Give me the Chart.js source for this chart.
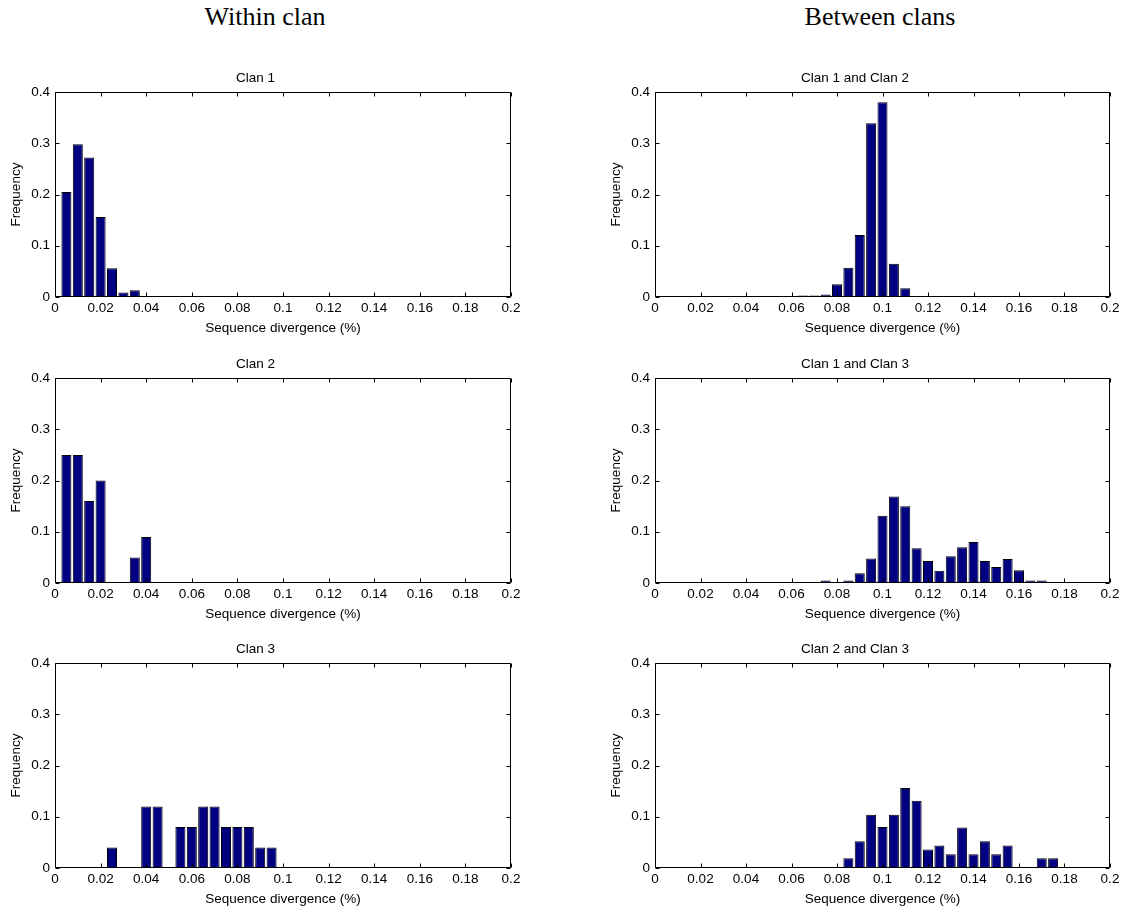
<!DOCTYPE html>
<html>
<head>
<meta charset="utf-8">
<script src="https://cdn.jsdelivr.net/npm/chart.js@4/dist/chart.umd.min.js"></script>
<style>
  body { margin: 0; width: 1131px; height: 911px; overflow: hidden; background: #fff; position: relative; }
  .head { position: absolute; top: 2px; font-family: "Liberation Serif", "Times New Roman", serif; font-size: 26px; color: #000; transform: translateX(-50%); white-space: nowrap; }
  .panel { position: absolute; }
</style>
</head>
<body>
<div class="head" style="left:265px">Within clan</div>
<div class="head" style="left:880px">Between clans</div>

<div class="panel" style="left:0;top:52px;width:560px;height:290px"><canvas id="c1"></canvas></div>
<div class="panel" style="left:600px;top:52px;width:531px;height:290px"><canvas id="c12"></canvas></div>
<div class="panel" style="left:0;top:338px;width:560px;height:290px"><canvas id="c2"></canvas></div>
<div class="panel" style="left:600px;top:338px;width:531px;height:290px"><canvas id="c13"></canvas></div>
<div class="panel" style="left:0;top:623px;width:560px;height:290px"><canvas id="c3"></canvas></div>
<div class="panel" style="left:600px;top:623px;width:531px;height:290px"><canvas id="c23"></canvas></div>

<script>
// bin centres (sequence divergence) and frequencies
const clan1X = [0.005, 0.01, 0.015, 0.02, 0.025, 0.03, 0.035];
const clan1Y = [0.205, 0.298, 0.272, 0.156, 0.056, 0.009, 0.013];

const clan2X = [0.005, 0.01, 0.015, 0.02, 0.035, 0.04];
const clan2Y = [0.25, 0.25, 0.16, 0.20, 0.05, 0.09];

const clan3X = [0.025, 0.04, 0.045, 0.055, 0.06, 0.065, 0.07, 0.075, 0.08, 0.085, 0.09, 0.095];
const clan3Y = [0.04, 0.12, 0.12, 0.08, 0.08, 0.12, 0.12, 0.08, 0.08, 0.08, 0.04, 0.04];

const clan12X = [0.065, 0.07, 0.075, 0.08, 0.085, 0.09, 0.095, 0.1, 0.105, 0.11];
const clan12Y = [0.003, 0.003, 0.005, 0.025, 0.057, 0.121, 0.339, 0.380, 0.065, 0.017];

const clan13X = [0.075, 0.085, 0.09, 0.095, 0.1, 0.105, 0.11, 0.115, 0.12, 0.125,
                 0.13, 0.135, 0.14, 0.145, 0.15, 0.155, 0.16, 0.165, 0.17];
const clan13Y = [0.005, 0.005, 0.019, 0.048, 0.131, 0.169, 0.150, 0.068, 0.043, 0.024,
                 0.052, 0.070, 0.080, 0.043, 0.031, 0.047, 0.025, 0.005, 0.005];

const clan23X = [0.085, 0.09, 0.095, 0.1, 0.105, 0.11, 0.115, 0.12, 0.125, 0.13,
                 0.135, 0.14, 0.145, 0.15, 0.155, 0.17, 0.175];
const clan23Y = [0.019, 0.052, 0.104, 0.080, 0.104, 0.156, 0.131, 0.036, 0.044, 0.027,
                 0.079, 0.027, 0.052, 0.027, 0.044, 0.019, 0.019];

const xTicksMax = 0.2;
const yTicksMax = 0.4;

Chart.defaults.font.family = '"Liberation Sans", Arial, sans-serif';
Chart.defaults.font.size = 13.5;
Chart.defaults.color = '#000';

const TICK = 4;

// MATLAB-style box with inward ticks on all four sides
const boxTicks = {
  id: 'boxTicks',
  afterDatasetsDraw(chart) {
    const { ctx, chartArea: a, scales: { x, y } } = chart;
    const l = Math.round(a.left) + 0.5, r = Math.round(a.right) - 0.5;
    const t = Math.round(a.top) + 0.5, b = Math.round(a.bottom) - 0.5;
    ctx.save();
    ctx.strokeStyle = '#000';
    ctx.lineWidth = 1;
    ctx.beginPath();
    ctx.rect(l, t, r - l, b - t);
    x.ticks.forEach(tk => {
      const px = Math.round(x.getPixelForValue(tk.value)) + 0.5;
      ctx.moveTo(px, b); ctx.lineTo(px, b - TICK);
      ctx.moveTo(px, t); ctx.lineTo(px, t + TICK);
    });
    y.ticks.forEach(tk => {
      const py = Math.round(y.getPixelForValue(tk.value)) + 0.5;
      ctx.moveTo(l, py); ctx.lineTo(l + TICK, py);
      ctx.moveTo(r, py); ctx.lineTo(r - TICK, py);
    });
    ctx.stroke();
    ctx.restore();
  }
};

const fmt = v => String(+Number(v).toFixed(3));

function makeHist(id, title, xs, ys, rightPad) {
  new Chart(document.getElementById(id), {
    type: 'bar',
    data: {
      datasets: [{
        data: xs.map((x, i) => ({ x: x, y: ys[i] })),
        backgroundColor: '#000080',
        borderColor: '#000',
        borderWidth: 1,
        borderSkipped: false,
        barPercentage: 0.88,
        categoryPercentage: 1
      }]
    },
    options: {
      responsive: true,
      maintainAspectRatio: false,
      animation: false,
      layout: { padding: { left: 0, right: rightPad, top: 0, bottom: 0 } },
      plugins: {
        legend: { display: false },
        tooltip: { enabled: false },
        title: {
          display: true,
          text: title,
          color: '#000',
          font: { size: 13.5, weight: 'normal' },
          padding: { top: 18, bottom: 5.8 }
        }
      },
      scales: {
        x: {
          type: 'linear',
          min: 0,
          max: xTicksMax,
          offset: false,
          grid: { display: false, drawTicks: false },
          border: { display: false },
          ticks: { stepSize: 0.02, padding: 3, maxRotation: 0, autoSkip: false, callback: fmt },
          title: { display: true, text: 'Sequence divergence (%)', padding: { top: 0, bottom: 6 } },
          afterFit: s => { s.height = 45; }
        },
        y: {
          min: 0,
          max: yTicksMax,
          grid: { display: false, drawTicks: false },
          border: { display: false },
          ticks: { stepSize: 0.1, padding: 5, callback: fmt },
          title: { display: true, text: 'Frequency', padding: { top: 8, bottom: 0 } },
          afterFit: s => { s.width = 55; }
        }
      }
    },
    plugins: [boxTicks]
  });
}

makeHist('c1', 'Clan 1', clan1X, clan1Y, 49);
makeHist('c2', 'Clan 2', clan2X, clan2Y, 49);
makeHist('c3', 'Clan 3', clan3X, clan3Y, 49);
makeHist('c12', 'Clan 1 and Clan 2', clan12X, clan12Y, 21);
makeHist('c13', 'Clan 1 and Clan 3', clan13X, clan13Y, 21);
makeHist('c23', 'Clan 2 and Clan 3', clan23X, clan23Y, 21);
</script>
</body>
</html>
